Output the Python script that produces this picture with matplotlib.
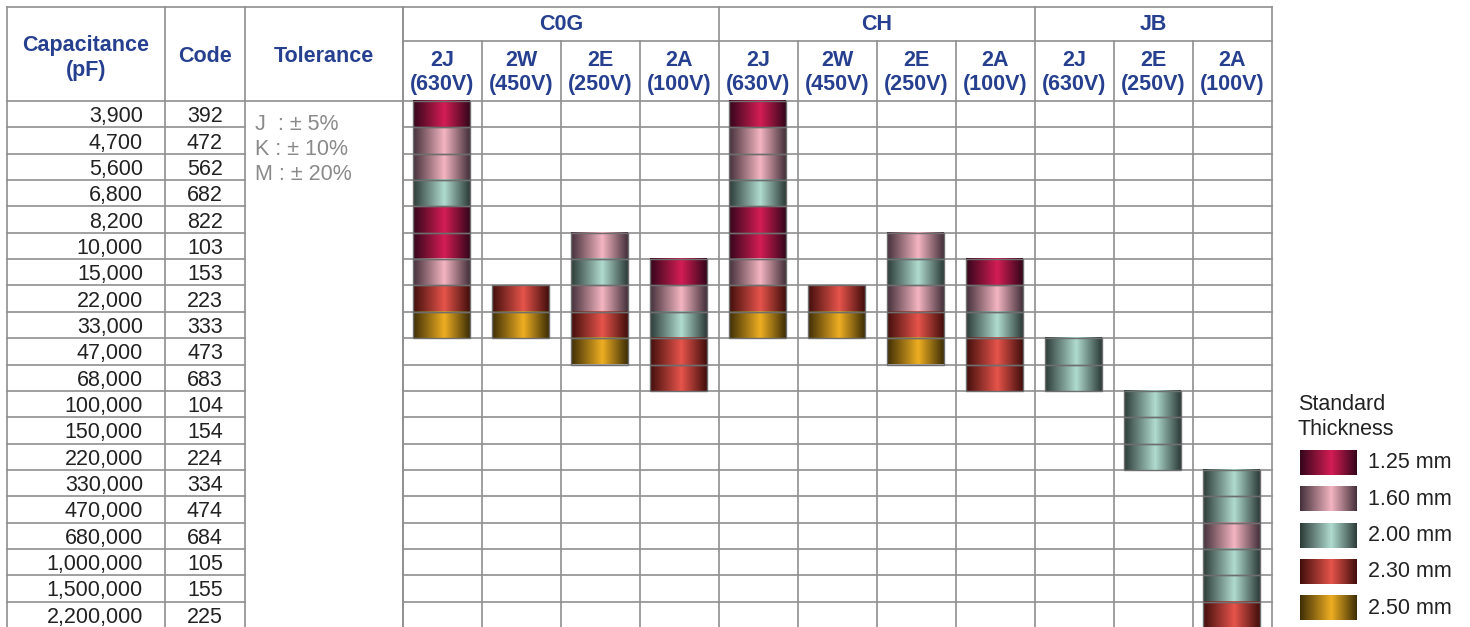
import numpy as np
import matplotlib.pyplot as plt
from matplotlib.colors import LinearSegmentedColormap
from matplotlib.patches import Rectangle

plt.rcParams['font.family'] = ['Liberation Sans', 'DejaVu Sans']

capacitance = ['3,900', '4,700', '5,600', '6,800', '8,200', '10,000', '15,000', '22,000',
               '33,000', '47,000', '68,000', '100,000', '150,000', '220,000', '330,000',
               '470,000', '680,000', '1,000,000', '1,500,000', '2,200,000']
codes = ['392', '472', '562', '682', '822', '103', '153', '223', '333', '473', '683',
         '104', '154', '224', '334', '474', '684', '105', '155', '225']
tolerance = ['J  : \u00b1 5%', 'K : \u00b1 10%', 'M : \u00b1 20%']

groups = ['C0G', 'CH', 'JB']
group_cols = [4, 4, 3]
ratings = ['2J\n(630V)', '2W\n(450V)', '2E\n(250V)', '2A\n(100V)',
           '2J\n(630V)', '2W\n(450V)', '2E\n(250V)', '2A\n(100V)',
           '2J\n(630V)', '2E\n(250V)', '2A\n(100V)']

# thickness (mm) per rating column: first row index + stacked values
first_row = [0, 7, 5, 6, 0, 7, 5, 6, 9, 11, 14]
thickness = [
    [1.25, 1.60, 1.60, 2.00, 1.25, 1.25, 1.60, 2.30, 2.50],
    [2.30, 2.50],
    [1.60, 2.00, 1.60, 2.30, 2.50],
    [1.25, 1.60, 2.00, 2.30, 2.30],
    [1.25, 1.60, 1.60, 2.00, 1.25, 1.25, 1.60, 2.30, 2.50],
    [2.30, 2.50],
    [1.60, 2.00, 1.60, 2.30, 2.50],
    [1.25, 1.60, 2.00, 2.30, 2.30],
    [2.00, 2.00],
    [2.00, 2.00, 2.00],
    [2.00, 2.00, 1.60, 2.00, 2.00, 2.30],
]
legend_values = [1.25, 1.60, 2.00, 2.30, 2.50]
legend_labels = ['1.25 mm', '1.60 mm', '2.00 mm', '2.30 mm', '2.50 mm']

# dark edge / bright centre of each cylinder shade
shades = {
    1.25: ('#34061a', '#d41d55'),
    1.60: ('#44303a', '#f3b5c1'),
    2.00: ('#2c3b37', '#b0dbcf'),
    2.30: ('#420e0c', '#e6544b'),
    2.50: ('#3e2e06', '#eeae22'),
}
cmaps = {}
for k, (dark, light) in shades.items():
    cmaps[k] = LinearSegmentedColormap.from_list(str(k), [(0, dark), (0.55, light), (1, dark)])
grad = np.linspace(0, 1, 256).reshape(1, -1)

# layout (pixels)
x_left = [7, 165, 245, 403]
col_w = 79
row_h = 26.35
top, mid, body = 7, 41, 101
n_cols = len(ratings)
x_right = x_left[-1] + n_cols * col_w
blue = '#26408f'
grid_c = '#8f8f8f'
fs = 15.5

fig = plt.figure(figsize=(14.7, 6.27), dpi=100)
ax = fig.add_axes([0, 0, 1, 1])
ax.axis('off')


def shade(x0, x1, y0, y1, value):
    ax.imshow(grad, extent=[x0, x1, y1, y0], aspect='auto', cmap=cmaps[value], zorder=3)
    ax.add_patch(Rectangle((x0, y0), x1 - x0, y1 - y0, fill=False, ec='#6e6e6e', lw=1, zorder=4))


n_rows = len(capacitance)
bottom = body + n_rows * row_h

# grid lines
ax.plot([x_left[0], x_right], [top, top], color=grid_c, lw=1.2)
ax.plot([x_left[3], x_right], [mid, mid], color=grid_c, lw=1.2)
ax.plot([x_left[0], x_right], [body, body], color=grid_c, lw=1.2)
for i in range(1, n_rows + 1):
    y = body + i * row_h
    ax.plot([x_left[0], x_left[2]], [y, y], color=grid_c, lw=1.2)
    ax.plot([x_left[3], x_right], [y, y], color=grid_c, lw=1.2)
for x in x_left:
    ax.plot([x, x], [top, bottom], color=grid_c, lw=1.2)
edge = 0
for g, n in zip(groups, group_cols):
    for j in range(n):
        x = x_left[3] + (edge + j) * col_w
        ax.plot([x, x], [mid if j else top, bottom], color=grid_c, lw=1.2)
    edge += n
ax.plot([x_right, x_right], [top, bottom], color=grid_c, lw=1.2)

# headers
hfont = dict(color=blue, fontsize=fs, fontweight='bold', ha='center', va='center')
ax.text((x_left[0] + x_left[1]) / 2, 58, 'Capacitance\n(pF)', linespacing=1.2, **hfont)
ax.text((x_left[1] + x_left[2]) / 2, 57, 'Code', **hfont)
ax.text((x_left[2] + x_left[3]) / 2, 57, 'Tolerance', **hfont)
edge = 0
for g, n in zip(groups, group_cols):
    ax.text(x_left[3] + (edge + n / 2) * col_w, (top + mid) / 2 + 1, g, **hfont)
    edge += n
for j, r in enumerate(ratings):
    ax.text(x_left[3] + (j + 0.5) * col_w, (mid + body) / 2 + 1.5, r, linespacing=1.2, **hfont)

# body text
for i, (c, code) in enumerate(zip(capacitance, codes)):
    yc = body + (i + 0.5) * row_h + 2.5
    ax.text(x_left[1] - 22, yc, c, ha='right', va='center', fontsize=fs, color='#222222')
    ax.text((x_left[1] + x_left[2]) / 2, yc, code, ha='center', va='center', fontsize=fs, color='#222222')
for i, t in enumerate(tolerance):
    ax.text(x_left[2] + 10, body + 24 + i * 24.5, t, ha='left', va='center', fontsize=fs, color='#8a8a8a')

# thickness cylinders
for j in range(n_cols):
    x0 = x_left[3] + j * col_w + 10
    x1 = x0 + 57
    for k, v in enumerate(thickness[j]):
        r = first_row[j] + k
        shade(x0, x1, body + r * row_h, body + (r + 1) * row_h, v)

# legend
ax.text(1298, 417, 'Standard\nThickness', ha='left', va='center', fontsize=fs, color='#222222', linespacing=1.2)
for i, (v, lab) in enumerate(zip(legend_values, legend_labels)):
    y0 = 450 + i * 36.3
    ax.imshow(grad, extent=[1300, 1357, y0 + 25, y0], aspect='auto', cmap=cmaps[v], zorder=3)
    ax.text(1368, y0 + 13, lab, ha='left', va='center', fontsize=fs, color='#222222')

ax.set_xlim(0, 1470)
ax.set_ylim(627, 0)
fig.savefig('out.png', dpi=100, facecolor='white')
